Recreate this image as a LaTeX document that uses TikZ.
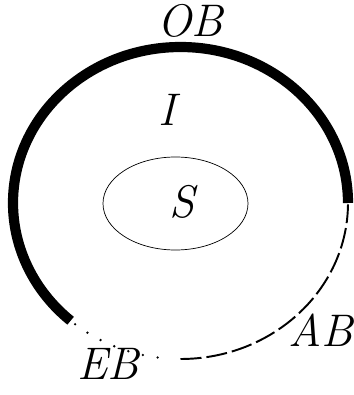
\documentclass[tikz,border=0pt]{standalone}
\usepackage{fontspec}
\usepackage{tikz}
\usetikzlibrary{shapes.geometric, positioning, calc}
\tikzset{
  outer/.style={line width=5.8pt, line cap=butt},
  edge/.style={line width=1.1pt, dash pattern=on 0.42cm off 0.1cm},
  dotline/.style={line width=1.5pt, line cap=round, dash pattern=on 0pt off 0.3cm},
  region/.style={ellipse, draw, line width=0.4pt, minimum width=2.9cm,
                 minimum height=1.86cm, inner sep=0pt},
  lbl/.style={font=\fontsize{26}{30}\selectfont\itshape, inner sep=0pt},
}

\begin{document}
\begin{tikzpicture}
  \useasboundingbox (0,0) rectangle (7.06,7.9);

  \coordinate (c) at (3.61,3.84);

  % boundary pieces
  \draw[outer] (c) ++(0:3.35 and 3.12)
    arc[start angle=0, end angle=229, x radius=3.35, y radius=3.12];
  \draw[dotline] (c) ++(231:3.35 and 3.12)
    arc[start angle=231, end angle=265, x radius=3.35, y radius=3.12];
  \draw[edge] (c) ++(270:3.35 and 3.12)
    arc[start angle=270, end angle=359.5, x radius=3.35, y radius=3.12];

  \node[region] (s) at (3.51,3.83) {};
  \node[lbl] (slbl) at (3.64,3.86) {S};
  \node[lbl] (i) at (3.34,5.70) {I};
  \node[lbl] (ob) at (3.80,7.48) {OB};
  \node[lbl] (ab) at (6.42,1.30) {AB};
  \node[lbl] (eb) at (2.16,0.62) {EB};

\end{tikzpicture}
\end{document}
